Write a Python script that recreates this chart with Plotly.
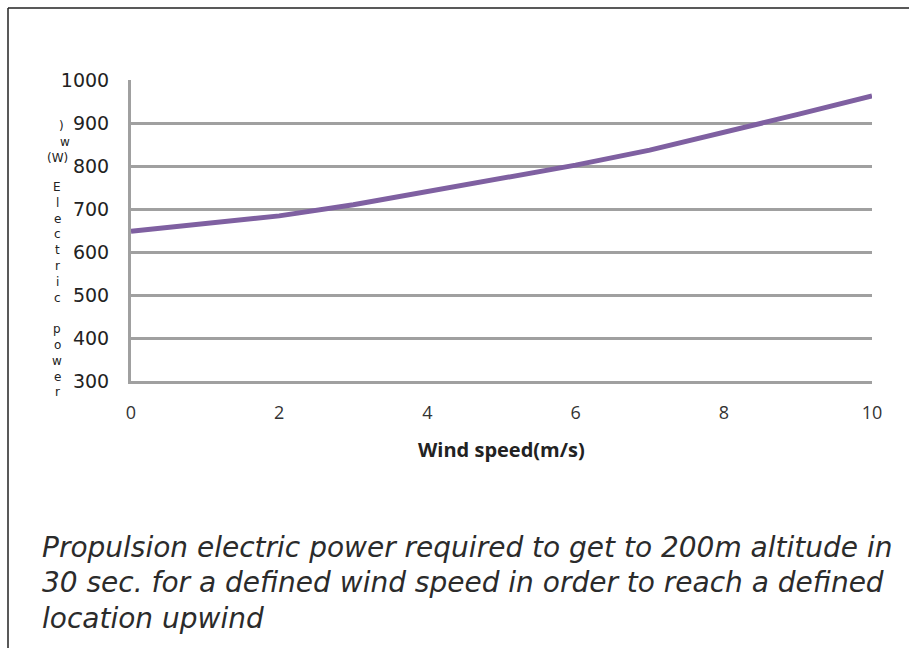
import plotly.graph_objects as go

# ---- data ----
wind_speed = [0, 1, 2, 3, 4, 5, 6, 7, 8, 9, 10]
power_w = [648, 666, 684, 710, 740, 771, 802, 837, 878, 920, 963]
x_ticks = [0, 2, 4, 6, 8, 10]
y_ticks = [300, 400, 500, 600, 700, 800, 900, 1000]
x_title = "Wind speed(m/s)"
caption_lines = [
    "Propulsion electric power required to get to 200m altitude in",
    "30 sec. for a defined wind speed in order to reach a defined",
    "location upwind",
]
ylabel_chars = list("Electric power")

W, H = 909, 648
L, R, T, B = 131, 872, 80, 381  # plot area in pixels

def px(x):
    return (x - L) / (R - L)

def py(y):
    return (B - y) / (B - T)

GRID = "#A0A0A0"

fig = go.Figure()
fig.add_trace(go.Scatter(
    x=wind_speed, y=power_w, mode="lines",
    line=dict(color="#7F60A1", width=5),
    showlegend=False, hoverinfo="skip",
))

fig.update_layout(
    width=W, height=H,
    margin=dict(l=L, r=W - R, t=T, b=H - B),
    paper_bgcolor="white", plot_bgcolor="white",
    xaxis=dict(
        range=[0, 10], tickvals=x_ticks, showgrid=False, zeroline=False,
        showline=True, linecolor=GRID, linewidth=3,
        ticks="", ticklabelstandoff=13,
        tickfont=dict(family="Open Sans", size=18, color="#333333"),
    ),
    yaxis=dict(
        range=[300, 1000], tickvals=y_ticks, showgrid=True, gridcolor=GRID,
        gridwidth=3, zeroline=False, showline=True, linecolor=GRID, linewidth=3,
        ticks="", ticklabelstandoff=15,
        tickfont=dict(family="DejaVu Sans", size=19, color="#222222"),
    ),
)

ann = []
# x-axis title
ann.append(dict(x=0.5, y=py(449), xref="paper", yref="paper", text="<b>" + x_title + "</b>",
                showarrow=False, font=dict(family="Open Sans", size=20, color="#222222"),
                xanchor="center", yanchor="middle"))
# mangled vertical y-label
LF = dict(family="DejaVu Sans", size=12, color="#222222")
ann.append(dict(x=px(61), y=py(126), xref="paper", yref="paper", text=")", showarrow=False,
                font=LF, xanchor="center", yanchor="middle"))
ann.append(dict(x=px(65), y=py(142), xref="paper", yref="paper", text="w", showarrow=False,
                font=LF, xanchor="center", yanchor="middle"))
ann.append(dict(x=px(57), y=py(158), xref="paper", yref="paper", text="(W)", showarrow=False,
                font=LF, xanchor="center", yanchor="middle"))
y0, step = 187, 15.8
for i, ch in enumerate(ylabel_chars):
    if ch == " ":
        continue
    ann.append(dict(x=px(57), y=py(y0 + i * step), xref="paper", yref="paper", text=ch,
                    showarrow=False, font=LF, xanchor="center", yanchor="middle"))
# caption
for i, line in enumerate(caption_lines):
    ann.append(dict(x=px(40), y=py(547 + i * 35.5), xref="paper", yref="paper",
                    text="<i>" + line + "</i>", showarrow=False,
                    font=dict(family="DejaVu Sans", size=28, color="#2B2B2B"),
                    xanchor="left", yanchor="middle"))
fig.update_layout(annotations=ann)

# frame (top and left borders)
fig.add_shape(type="line", xref="paper", yref="paper", x0=px(8), x1=px(W + 5), y0=py(8), y1=py(8),
              line=dict(color="#222222", width=1.5))
fig.add_shape(type="line", xref="paper", yref="paper", x0=px(8), x1=px(8), y0=py(8), y1=py(H + 5),
              line=dict(color="#222222", width=1.5))

fig.write_html("out.html", config={"displayModeBar": False},
               post_script="document.body.style.margin='0px';")
